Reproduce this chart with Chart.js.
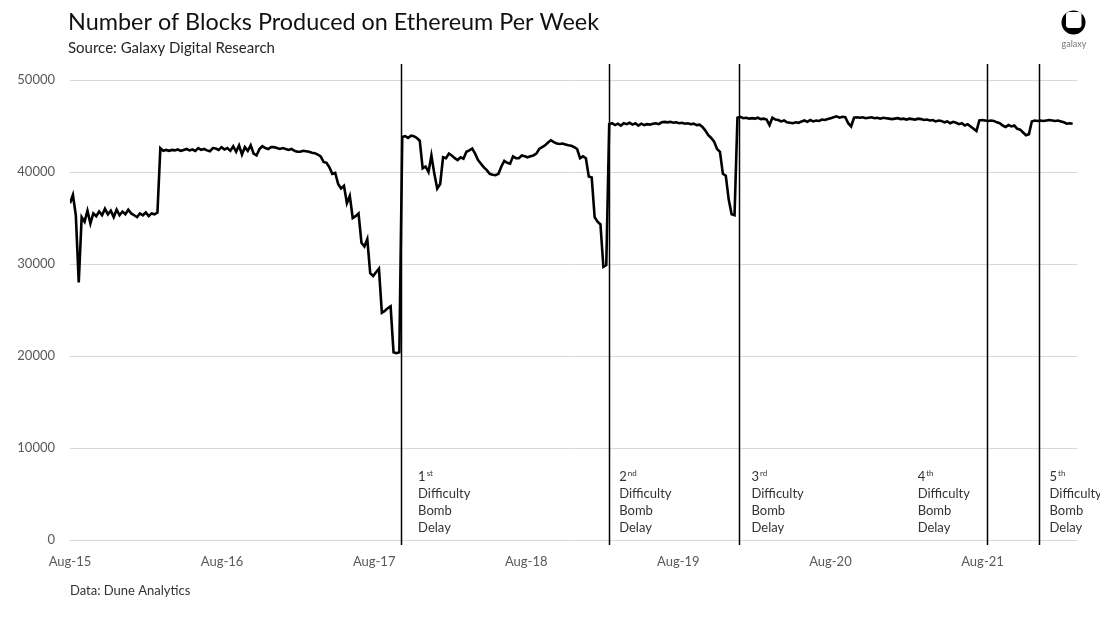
<!DOCTYPE html>
<html>
<head>
<meta charset="utf-8">
<script src="https://cdn.jsdelivr.net/npm/chart.js@4.4.1/dist/chart.umd.min.js"></script>
<style>
  body { margin: 0; background: #fff; }
  #wrap { width: 1100px; height: 631px; position: relative; }
</style>
</head>
<body>
<div id="wrap"><canvas id="blocksChart"></canvas></div>
<script>
// weekly block counts, first week = early Aug 2015
const weeklyBlocks = [
  36600, 37500, 35300, 28000, 35100, 34600, 35800, 34400, 35500, 35200,
  35700, 35300, 36000, 35400, 35800, 35100, 35900, 35300, 35700, 35400,
  35900, 35500, 35300, 35100, 35500, 35300, 35600, 35200, 35500, 35400,
  35600, 42600, 42300, 42400, 42300, 42400, 42350, 42450, 42300, 42400,
  42500, 42350, 42450, 42300, 42600, 42400, 42500, 42350, 42250, 42600,
  42550, 42400, 42700, 42450, 42600, 42300, 42800, 42200, 42900, 41900,
  42700, 42300, 42900, 42000, 41800, 42500, 42800, 42600, 42500, 42700,
  42700, 42600, 42500, 42600, 42500, 42400, 42500, 42300, 42200, 42200,
  42300, 42250, 42200, 42100, 42050, 41900, 41700, 41100, 41000, 40500,
  39800, 39900, 38700, 38200, 38500, 36600, 37400, 35000, 35200, 35500,
  32300, 31900, 32700, 29000, 28700, 29100, 29500, 24700, 24900, 25200,
  25400, 20400, 20300, 20400, 43800, 43900, 43700, 43950, 43900, 43700,
  43400, 40400, 40600, 40000, 41800, 39800, 38200, 38700, 41600, 41500,
  42000, 41800, 41500, 41300, 41600, 41450, 42200, 42350, 42550, 42000,
  41300, 40900, 40500, 40200, 39800, 39700, 39650, 39800, 40600, 41200,
  41000, 40900, 41700, 41500, 41500, 41800, 41700, 41600, 41700, 41800,
  42000, 42500, 42700, 42900, 43200, 43450, 43250, 43100, 43050, 43100,
  43000, 42900, 42850, 42700, 42500, 41500, 41700, 41500, 39500, 39400,
  35100, 34600, 34300, 29700, 29900, 45200, 45300, 45100, 45250, 45050,
  45300, 45200, 45350, 45150, 45300, 45050, 45250, 45100, 45200, 45150,
  45250, 45300, 45200, 45400, 45450, 45400, 45450, 45350, 45400, 45300,
  45350, 45250, 45300, 45200, 45250, 45100, 45150, 44900, 44500, 44000,
  43700, 43300, 42500, 42200, 39800, 39600, 37000, 35400, 35300, 45900,
  46000, 45850, 45900, 45800, 45850, 45800, 45900, 45750, 45800, 45700,
  45100, 45900, 45700, 45650, 45500, 45600, 45400, 45350, 45300, 45400,
  45350, 45500, 45600, 45450, 45650, 45500, 45600, 45550, 45700, 45650,
  45750, 45850, 45950, 46050, 45900, 46000, 45950, 45300, 44950, 45900,
  45950, 45900, 45950, 45850, 45900, 45950, 45850, 45900, 45800, 45900,
  45850, 45800, 45750, 45800, 45850, 45750, 45800, 45700, 45800, 45750,
  45700, 45800, 45750, 45650, 45700, 45600, 45650, 45500, 45600, 45550,
  45400, 45500, 45300, 45450, 45350, 45200, 45300, 45050, 45200, 44950,
  44700, 44450, 45600, 45650, 45600, 45550, 45600, 45550, 45400, 45300,
  45050, 44900, 45100, 44950, 45050, 44700, 44600, 44300, 44000, 44100,
  45500, 45600, 45550, 45600, 45550, 45600, 45650, 45600, 45550, 45600,
  45500, 45400, 45250, 45300, 45250
];

const yearLabels = ['Aug-15', 'Aug-16', 'Aug-17', 'Aug-18', 'Aug-19', 'Aug-20', 'Aug-21'];
const WEEKS_PER_YEAR = 52.18;

// difficulty bomb delay forks, in weeks from the first week
const bombDelayWeeks = [113.6, 185.0, 229.7, 314.5, 332.3];
const bombNumbers = ['1', '2', '3', '4', '5'];
const bombSuffixes = ['st', 'nd', 'rd', 'th', 'th'];

const FONT = 'Lato, "Open Sans", sans-serif';
// pixel offset of each label from its line
const labelShift = [17, 10, 12, -69, 11];

const decoPlugin = {
  id: 'deco',
  afterDatasetsDraw(chart) {
    const c = chart.ctx;
    const xs = chart.scales.x;
    const area = chart.chartArea;
    c.save();

    // fork lines
    c.strokeStyle = '#000';
    c.lineWidth = 1.5;
    bombDelayWeeks.forEach(function (w) {
      const px = Math.round(xs.getPixelForValue(w)) + 0.5;
      c.beginPath();
      c.moveTo(px, area.top - 16);
      c.lineTo(px, area.bottom + 5);
      c.stroke();
    });

    // labels
    c.fillStyle = '#333';
    c.textBaseline = 'middle';
    c.textAlign = 'left';
    bombDelayWeeks.forEach(function (w, i) {
      const lx = xs.getPixelForValue(w) + labelShift[i];
      c.font = '13px ' + FONT;
      c.fillText(bombNumbers[i], lx, 477);
      const nw = c.measureText(bombNumbers[i]).width;
      c.font = '8px ' + FONT;
      c.fillText(bombSuffixes[i], lx + nw + 1, 473);
      c.font = '13px ' + FONT;
      c.fillText('Difficulty', lx, 494);
      c.fillText('Bomb', lx, 511);
      c.fillText('Delay', lx, 528);
    });
    c.restore();
  },
  beforeDraw(chart) {
    const c = chart.ctx;
    c.save();
    c.fillStyle = '#fff';
    c.fillRect(0, 0, chart.width, chart.height);
    c.textBaseline = 'middle';
    c.textAlign = 'left';

    c.fillStyle = '#111';
    c.font = '23.4px ' + FONT;
    c.fillText('Number of Blocks Produced on Ethereum Per Week', 68, 22);
    c.fillStyle = '#262626';
    c.font = '15px ' + FONT;
    c.fillText('Source: Galaxy Digital Research', 68, 48);
    c.fillStyle = '#333';
    c.font = '13px ' + FONT;
    c.fillText('Data: Dune Analytics', 70, 591);

    // logo
    c.fillStyle = '#000';
    c.beginPath();
    c.arc(1073.5, 22.5, 12, 0, Math.PI * 2);
    c.fill();
    c.fillStyle = '#fff';
    c.beginPath();
    c.roundRect(1066, 12, 15.5, 16, 3);
    c.fill();
    c.fillStyle = '#777';
    c.font = '9px ' + FONT;
    c.textAlign = 'center';
    c.fillText('galaxy', 1074, 44);
    c.restore();
  }
};

new Chart(document.getElementById('blocksChart'), {
  type: 'line',
  data: {
    datasets: [{
      data: weeklyBlocks.map(function (v, i) { return { x: i, y: v }; }),
      borderColor: '#000',
      borderWidth: 2.6,
      pointRadius: 0,
      tension: 0,
      fill: false
    }]
  },
  options: {
    responsive: true,
    maintainAspectRatio: false,
    animation: false,
    layout: { padding: { top: 80, right: 23, left: 0, bottom: 0 } },
    plugins: {
      legend: { display: false },
      tooltip: { enabled: false }
    },
    scales: {
      x: {
        type: 'linear',
        min: 0,
        max: 345.5,
        grid: { display: false },
        border: { display: false },
        afterBuildTicks(scale) {
          scale.ticks = yearLabels.map(function (l, i) { return { value: i * WEEKS_PER_YEAR }; });
        },
        afterFit(scale) { scale.height = 91; },
        ticks: {
          autoSkip: false,
          maxRotation: 0,
          padding: 6,
          color: '#595959',
          font: { family: FONT, size: 13 },
          callback: function (v, i) { return yearLabels[i]; }
        }
      },
      y: {
        min: 0,
        max: 50000,
        afterFit(scale) { scale.width = 70; },
        grid: { color: '#d9d9d9', lineWidth: 1, drawTicks: false },
        border: { display: false },
        ticks: {
          stepSize: 10000,
          padding: 15,
          color: '#595959',
          font: { family: FONT, size: 13 },
          callback: function (v) { return String(v); }
        }
      }
    }
  },
  plugins: [decoPlugin]
});
</script>
</body>
</html>
